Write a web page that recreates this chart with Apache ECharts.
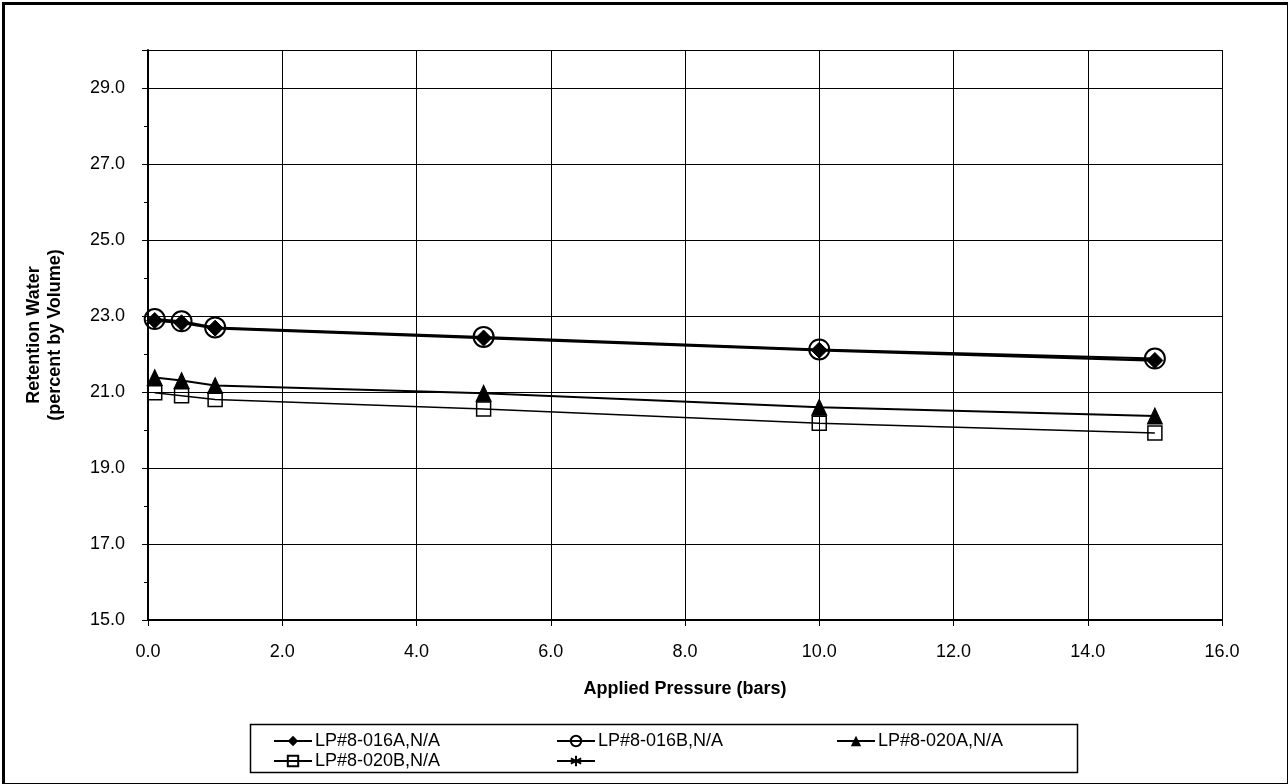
<!DOCTYPE html>
<html>
<head>
<meta charset="utf-8">
<script src="https://cdn.jsdelivr.net/npm/echarts@6/dist/echarts.min.js"></script>
<style>
html,body{margin:0;padding:0;background:#fff;}
#c{width:1288px;height:784px;}
</style>
</head>
<body>
<div id="c"></div>
<script>
const pressures = [0.1, 0.5, 1, 5, 10, 15];
const lp016A = [22.88, 22.82, 22.68, 22.42, 22.10, 21.83];
const lp016B = [22.92, 22.86, 22.70, 22.45, 22.12, 21.88];
const lp020A = [21.38, 21.30, 21.17, 20.97, 20.60, 20.37];
const lp020B = [20.98, 20.90, 20.80, 20.55, 20.18, 19.92];
const seriesNames = ['LP#8-016A,N/A', 'LP#8-016B,N/A', 'LP#8-020A,N/A', 'LP#8-020B,N/A', ' '];

const pair = (ys) => pressures.map((x, i) => [x, ys[i]]);
const FONT = '"Liberation Sans", Arial, sans-serif';
const star = 'path://M0,-10L0,10M-8.66,-5L8.66,5M-8.66,5L8.66,-5';

const legendSlots = [[268, 727], [551, 727], [831, 727], [268, 747], [551, 747]];
const legends = seriesNames.map((n, i) => ({
  data: [n], left: legendSlots[i][0], top: legendSlots[i][1],
  itemWidth: 38, itemHeight: 13, itemGap: 4,
  textStyle: { fontSize: 18, color: '#000', fontFamily: FONT, padding: [0, 0, 0, -2] }
}));

const chart = echarts.init(document.getElementById('c'));
chart.setOption({
  animation: false,
  backgroundColor: '#fff',
  textStyle: { fontFamily: FONT, color: '#000' },
  grid: { left: 148, top: 50, right: 66, bottom: 164 },
  xAxis: {
    type: 'value', min: 0, max: 16, interval: 2,
    name: 'Applied Pressure (bars)', nameLocation: 'middle', nameGap: 60,
    nameTextStyle: { fontFamily: FONT, fontSize: 18, fontWeight: 'bold', color: '#000' },
    axisLine: { lineStyle: { color: '#000', width: 2 } },
    axisTick: { show: true, inside: false, length: 6, lineStyle: { color: '#000' } },
    axisLabel: { formatter: v => v.toFixed(1), fontSize: 18, color: '#000', margin: 23, fontFamily: FONT },
    splitLine: { show: true, lineStyle: { color: '#000', width: 1 } }
  },
  yAxis: {
    type: 'value', min: 15, max: 30, interval: 2,
    name: 'Retention Water\n(percent by Volume)', nameLocation: 'middle', nameGap: 82, nameRotate: 90,
    nameTextStyle: { fontFamily: FONT, fontSize: 18, fontWeight: 'bold', color: '#000', lineHeight: 21 },
    axisLine: { show: true, lineStyle: { color: '#000', width: 2 } },
    axisTick: { show: true, inside: false, length: 6, lineStyle: { color: '#000' } },
    minorTick: { show: true, splitNumber: 2, length: 4, lineStyle: { color: '#000' } },
    axisLabel: { formatter: v => v.toFixed(1), fontSize: 18, color: '#000', margin: 23, fontFamily: FONT, showMaxLabel: false },
    splitLine: { show: true, lineStyle: { color: '#000', width: 1 } }
  },
  legend: legends,
  graphic: [
    { type: 'rect', left: 1, top: 1, shape: { width: 1285, height: 781 }, style: { fill: 'none', stroke: '#000', lineWidth: 3 }, silent: true },
    { type: 'rect', left: 248, top: 722, shape: { width: 827, height: 48 }, style: { fill: 'none', stroke: '#000', lineWidth: 1.5 }, silent: true }
  ],
  series: [
    {
      name: seriesNames[0], type: 'line', data: pair(lp016A),
      symbol: 'diamond', symbolSize: 16,
      lineStyle: { color: '#000', width: 2.5 },
      itemStyle: { color: '#000', borderColor: '#000' }
    },
    {
      name: seriesNames[1], type: 'line', data: pair(lp016B),
      symbol: 'circle', symbolSize: 20,
      lineStyle: { color: '#000', width: 2 },
      itemStyle: { color: 'rgba(0,0,0,0)', borderColor: '#000', borderWidth: 2 }
    },
    {
      name: seriesNames[2], type: 'line', data: pair(lp020A),
      symbol: 'triangle', symbolSize: [15, 16],
      lineStyle: { color: '#000', width: 2 },
      itemStyle: { color: '#000', borderColor: '#000' }
    },
    {
      name: seriesNames[3], type: 'line', data: pair(lp020B),
      symbol: 'rect', symbolSize: 14,
      lineStyle: { color: '#000', width: 1.5 },
      itemStyle: { color: 'rgba(0,0,0,0)', borderColor: '#000', borderWidth: 1.5 }
    },
    {
      name: seriesNames[4], type: 'line', data: [],
      symbol: star, symbolSize: 10,
      lineStyle: { color: '#000', width: 2 },
      itemStyle: { color: '#000', borderColor: '#000', borderWidth: 1.5 }
    }
  ]
});
</script>
</body>
</html>
